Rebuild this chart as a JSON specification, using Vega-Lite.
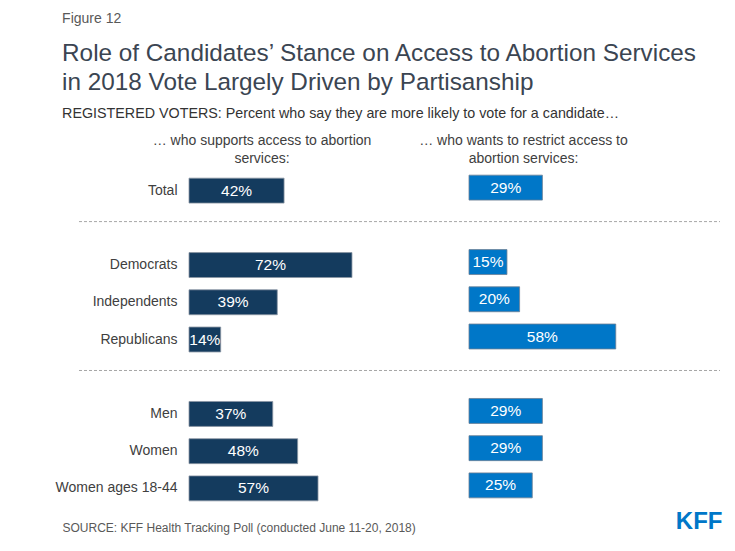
{
  "$schema": "https://vega.github.io/schema/vega-lite/v6.json",
  "padding": {"left": 55, "top": 12, "right": 5, "bottom": 5},
  "config": {"view": {"stroke": null}, "font": "Liberation Sans"},
  "datasets": {
    "poll": [
      {"group": "Total", "support": 0.42, "restrict": 0.29},
      {"group": "Democrats", "support": 0.72, "restrict": 0.15},
      {"group": "Independents", "support": 0.39, "restrict": 0.20},
      {"group": "Republicans", "support": 0.14, "restrict": 0.58},
      {"group": "Men", "support": 0.37, "restrict": 0.29},
      {"group": "Women", "support": 0.48, "restrict": 0.29},
      {"group": "Women ages 18-44", "support": 0.57, "restrict": 0.25}
    ],
    "seps": [{"sep": "gap1"}, {"sep": "gap2"}]
  },
  "title": {"text": "Figure 12", "anchor": "start", "frame": "bounds", "fontSize": 14, "fontWeight": "normal", "color": "#595959", "dx": 7, "offset": 16},
  "vconcat": [
    {
      "title": {
        "text": ["Role of Candidates’ Stance on Access to Abortion Services", "in 2018 Vote Largely Driven by Partisanship"],
        "subtitle": "REGISTERED VOTERS: Percent who say they are more likely to vote for a candidate…",
        "anchor": "start", "frame": "bounds", "dx": 7,
        "fontSize": 24.3, "fontWeight": "normal", "color": "#3b4552", "lineHeight": 29,
        "subtitleFontSize": 14.3, "subtitleColor": "#333333", "subtitlePadding": 11, "offset": 13
      },
      "spacing": 0,
      "bounds": "flush",
      "hconcat": [
        {
          "width": 280, "height": 335,
          "title": {"text": ["… who supports access to abortion", "services:"], "frame": "group", "anchor": "middle", "dx": -67, "fontSize": 14, "fontWeight": "normal", "color": "#404040", "lineHeight": 18, "offset": 6},
          "resolve": {"scale": {"x": "independent"}},
          "layer": [
            {
              "data": {"name": "seps"},
              "mark": {"type": "rule", "color": "#a6a6a6", "strokeDash": [3, 2], "strokeWidth": 1},
              "encoding": {
                "y": {"field": "sep", "type": "nominal", "bandPosition": 0.25,
                      "scale": {"domain": ["Total", "gap1", "Democrats", "Independents", "Republicans", "gap2", "Men", "Women", "Women ages 18-44"], "paddingInner": 0.33, "paddingOuter": 0.165},
                      "axis": {"title": null, "ticks": false, "domain": false, "labelFontSize": 14, "labelColor": "#404040", "labelPadding": 12, "labelExpr": "indexof(datum.value,'gap')==0 ? '' : datum.value"}},
                "x": {"datum": -0.486, "type": "quantitative", "scale": {"domain": [0, 1.237], "nice": false, "zero": false}, "axis": null},
                "x2": {"datum": 1.237}
              }
            },
            {
              "data": {"name": "poll"},
              "mark": {"type": "bar", "color": "#143b5e", "stroke": "#8a96a3", "strokeWidth": 0.8},
              "encoding": {
                "y": {"field": "group", "type": "nominal"},
                "x": {"field": "support", "type": "quantitative", "scale": {"domain": [0, 1.237], "nice": false},
                      "axis": {"labels": false, "ticks": false, "domain": false, "grid": false, "title": "SOURCE: KFF Health Tracking Poll (conducted June 11-20, 2018)", "titleFontSize": 12, "titleFontWeight": "normal", "titleColor": "#595959", "titleAnchor": "start", "titleAlign": "left", "titleX": -127, "titleY": 24, "titleBaseline": "alphabetic"}}
              }
            },
            {
              "data": {"name": "poll"},
              "mark": {"type": "text", "color": "white", "fontSize": 15.5},
              "encoding": {
                "y": {"field": "group", "type": "nominal"},
                "x": {"field": "support", "type": "quantitative", "scale": {"domain": [0, 2.474], "nice": false}, "axis": null},
                "text": {"field": "support", "type": "quantitative", "format": ".0%"}
              }
            }
          ]
        },
        {
          "width": 251, "height": 335,
          "title": {"text": ["… who wants to restrict access to", "abortion services:"], "frame": "group", "anchor": "middle", "dx": -71, "fontSize": 14, "fontWeight": "normal", "color": "#404040", "lineHeight": 18, "offset": 6},
          "resolve": {"scale": {"x": "independent"}},
          "layer": [
            {
              "data": {"name": "seps"},
              "mark": {"type": "rule", "color": "#a6a6a6", "strokeDash": [3, 2], "strokeWidth": 1},
              "encoding": {
                "y": {"field": "sep", "type": "nominal", "bandPosition": 0.25,
                      "scale": {"domain": ["Total", "gap1", "Democrats", "Independents", "Republicans", "gap2", "Men", "Women", "Women ages 18-44"], "paddingInner": 0.33, "paddingOuter": 0.165},
                      "axis": null},
                "x": {"datum": 0, "type": "quantitative", "scale": {"domain": [0, 0.992], "nice": false, "zero": false}, "axis": null},
                "x2": {"datum": 0.992}
              }
            },
            {
              "data": {"name": "poll"},
              "mark": {"type": "bar", "color": "#0077c8", "stroke": "#6b7f94", "strokeWidth": 0.8, "yOffset": -3},
              "encoding": {
                "y": {"field": "group", "type": "nominal", "axis": null},
                "x": {"field": "restrict", "type": "quantitative", "scale": {"domain": [0, 0.992], "nice": false},
                      "axis": {"labels": false, "ticks": false, "domain": false, "grid": false, "title": "KFF", "titleFont": "Liberation Sans", "titleFontSize": 24, "titleFontWeight": "bold", "titleColor": "#0077c8", "titleAnchor": "end", "titleAlign": "right", "titleX": 253, "titleY": 21, "titleBaseline": "alphabetic"}}
              }
            },
            {
              "data": {"name": "poll"},
              "mark": {"type": "text", "color": "white", "fontSize": 15.5, "yOffset": -3},
              "encoding": {
                "y": {"field": "group", "type": "nominal", "axis": null},
                "x": {"field": "restrict", "type": "quantitative", "scale": {"domain": [0, 1.984], "nice": false}, "axis": null},
                "text": {"field": "restrict", "type": "quantitative", "format": ".0%"}
              }
            }
          ]
        }
      ]
    }
  ]
}
